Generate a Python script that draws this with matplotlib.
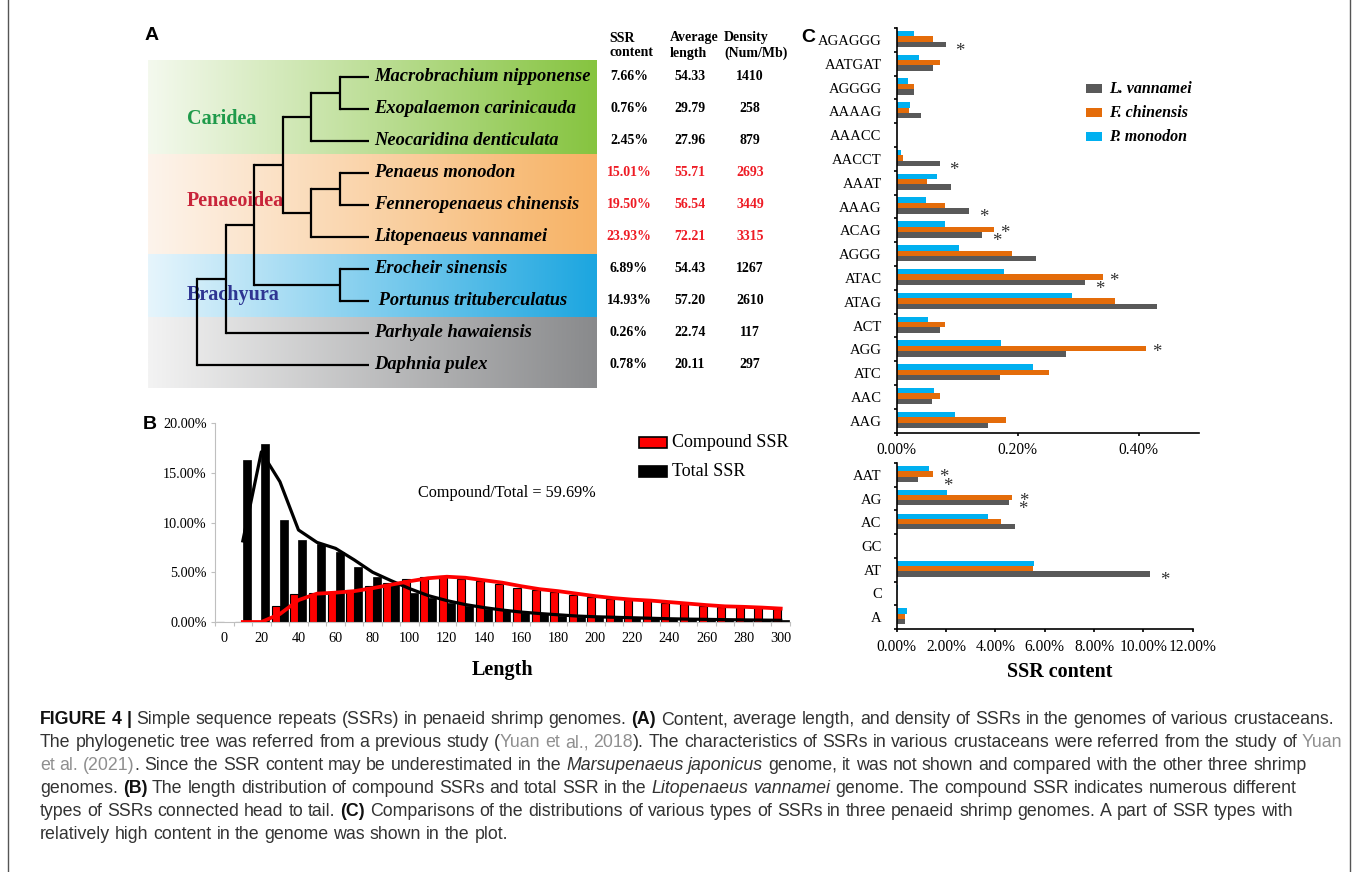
import re
import numpy as np
import matplotlib
matplotlib.use("Agg")
import matplotlib.pyplot as plt
from matplotlib.colors import to_rgb
from matplotlib.patches import Rectangle

W, H = 1358, 872
DPI = 100
SERIF = ["Liberation Serif", "DejaVu Serif"]
SANS = ["Liberation Sans", "DejaVu Sans"]

# ---------------- Panel A data ----------------
species = ["Macrobrachium nipponense", "Exopalaemon carinicauda", "Neocaridina denticulata",
           "Penaeus monodon", "Fenneropenaeus chinensis", "Litopenaeus vannamei",
           "Erocheir sinensis", " Portunus trituberculatus", "Parhyale hawaiensis", "Daphnia pulex"]
ssr_content = [7.66, 0.76, 2.45, 15.01, 19.50, 23.93, 6.89, 14.93, 0.26, 0.78]
avg_length = [54.33, 29.79, 27.96, 55.71, 56.54, 72.21, 54.43, 57.20, 22.74, 20.11]
density = [1410, 258, 879, 2693, 3449, 3315, 1267, 2610, 117, 297]
penaeid = [False, False, False, True, True, True, False, False, False, False]
tree = ((((((0, 1), 2), ((3, 4), 5)), (6, 7)), 8), 9)
clades = ["Caridea", "Penaeoidea", "Brachyura", ""]
clade_colors = ["#1f9a4a", "#c8243a", "#2e3592", None]
table_headers = ["SSR\ncontent", "Average\nlength", "Density\n(Num/Mb)"]

# ---------------- Panel B data ----------------
lengths = list(range(0, 310, 10))
compound_ssr = [0, 0, 0, 1.6, 2.8, 2.9, 3.0, 3.2, 3.6, 3.9, 4.3, 4.5, 4.6, 4.3, 4.1, 3.8,
                3.4, 3.2, 3.0, 2.7, 2.5, 2.3, 2.2, 2.1, 1.9, 1.8, 1.6, 1.55, 1.5, 1.4, 1.3]
total_ssr = [0, 16.3, 17.9, 10.3, 8.2, 7.8, 7.0, 5.5, 4.5, 3.8, 2.9, 2.4, 1.9, 1.6, 1.3, 1.1,
             0.9, 0.8, 0.65, 0.55, 0.5, 0.45, 0.4, 0.35, 0.3, 0.28, 0.25, 0.22, 0.2, 0.18, 0.16]
ratio_text = "Compound/Total = 59.69%"

# ---------------- Panel C data ----------------
types_long = ["AGAGGG", "AATGAT", "AGGGG", "AAAAG", "AAACC", "AACCT", "AAAT", "AAAG", "ACAG",
              "AGGG", "ATAC", "ATAG", "ACT", "AGG", "ATC", "AAC", "AAG"]
lv_long = [0.081, 0.060, 0.029, 0.040, 0.000, 0.071, 0.090, 0.120, 0.141,
           0.230, 0.311, 0.430, 0.071, 0.280, 0.171, 0.059, 0.151]
fc_long = [0.060, 0.071, 0.029, 0.020, 0.000, 0.011, 0.050, 0.080, 0.160,
           0.190, 0.341, 0.360, 0.080, 0.412, 0.251, 0.071, 0.181]
pm_long = [0.028, 0.037, 0.018, 0.022, 0.000, 0.007, 0.067, 0.048, 0.080,
           0.103, 0.177, 0.290, 0.051, 0.173, 0.226, 0.061, 0.096]
types_short = ["AAT", "AG", "AC", "GC", "AT", "C", "A"]
lv_short = [0.87, 4.54, 4.78, 0.01, 10.26, 0.01, 0.35]
fc_short = [1.48, 4.69, 4.21, 0.01, 5.51, 0.02, 0.35]
pm_short = [1.29, 2.02, 3.70, 0.02, 5.56, 0.07, 0.41]
# significance marks: (type, row series, anchor series)
marks_long = [("AGAGGG", "lv", "lv"), ("AACCT", "lv", "lv"), ("AAAG", "lv", "lv"),
              ("ACAG", "fc", "fc"), ("ACAG", "lv", "lv"), ("ATAC", "fc", "fc"),
              ("ATAC", "lv", "lv"), ("AGG", "fc", "fc")]
marks_short = [("AAT", "fc", "fc"), ("AAT", "lv", "fc"), ("AG", "fc", "fc"),
               ("AG", "lv", "lv"), ("AT", "lv", "lv")]
series_names = {"lv": "L. vannamei", "fc": "F. chinensis", "pm": "P. monodon"}
series_colors = {"lv": "#595959", "fc": "#E46C0A", "pm": "#00B0F0"}

# ---------------- caption ----------------
caption = [
    [("FIGURE 4 |", "b"), (" Simple sequence repeats (SSRs) in penaeid shrimp genomes. ", "n"), ("(A)", "b"),
     (" Content, average length, and density of SSRs in the genomes of various crustaceans.", "n")],
    [("The phylogenetic tree was referred from a previous study (", "n"), ("Yuan et al., 2018", "l"),
     ("). The characteristics of SSRs in various crustaceans were referred from the study of ", "n"), ("Yuan", "l")],
    [("et al. (2021)", "l"), (". Since the SSR content may be underestimated in the ", "n"),
     ("Marsupenaeus japonicus", "i"), (" genome, it was not shown and compared with the other three shrimp", "n")],
    [("genomes. ", "n"), ("(B)", "b"), (" The length distribution of compound SSRs and total SSR in the ", "n"),
     ("Litopenaeus vannamei", "i"), (" genome. The compound SSR indicates numerous different", "n")],
    [("types of SSRs connected head to tail. ", "n"), ("(C)", "b"),
     (" Comparisons of the distributions of various types of SSRs in three penaeid shrimp genomes. A part of SSR types with", "n")],
    [("relatively high content in the genome was shown in the plot.", "n")],
]

# =====================================================================
fig = plt.figure(figsize=(W / DPI, H / DPI), dpi=DPI)
fig.patch.set_facecolor("white")
ov = fig.add_axes([0, 0, 1, 1])
ov.axis("off")
R = fig.canvas.get_renderer()

# ---------- Panel A: gradient bands ----------
band_edges = [61, 155.5, 254.5, 317.5, 388]
band_left, band_right = 148, 597
band_cols = [("#f4f9ee", "#86c440"), ("#fdf4ec", "#f7b264"),
             ("#e6f5fc", "#1ca6e0"), ("#f3f3f3", "#898a8c")]
t = np.linspace(0, 1, 256)
for (c0, c1), y0, y1 in zip(band_cols, band_edges[:-1], band_edges[1:]):
    a = np.array(to_rgb(c0)); b = np.array(to_rgb(c1))
    img = (a[None, :] * (1 - t[:, None]) + b[None, :] * t[:, None])[None, :, :]
    ov.imshow(img, extent=(band_left, band_right, y1, y0), aspect="auto",
              interpolation="bilinear", zorder=1)

# clade labels
clade_pos = [119, 201, 295]
for name, col, yy in zip(clades, clade_colors, clade_pos):
    if name:
        ov.text(187, yy, name, color=col, fontsize=14.5, fontweight="bold", family=SERIF,
                ha="left", va="center", zorder=2)

# tree
leaf_x, step = 368.6, 28.6
leaf_y0, leaf_dy = 76.7, 32.03
leaf_y = [leaf_y0 + i * leaf_dy for i in range(len(species))]


def draw_node(node):
    if isinstance(node, int):
        return leaf_x, leaf_y[node], 0
    kids = [draw_node(c) for c in node]
    h = max(k[2] for k in kids) + 1
    x = leaf_x - h * step
    ys = [k[1] for k in kids]
    ov.plot([x, x], [min(ys), max(ys)], color="black", lw=1.6, zorder=3, solid_capstyle="projecting")
    for kx, ky, _ in kids:
        ov.plot([x, kx], [ky, ky], color="black", lw=1.6, zorder=3, solid_capstyle="butt")
    return x, (min(ys) + max(ys)) / 2, h


draw_node(tree)

for i, sp in enumerate(species):
    y = leaf_y[i]
    ov.text(374, y, sp, fontsize=13.3, fontweight="bold", fontstyle="italic", family=SERIF,
            ha="left", va="center", zorder=4)
    col = "#ee1c25" if penaeid[i] else "black"
    ov.text(629, y, f"{ssr_content[i]:.2f}%", fontsize=10, fontweight="bold", family=SERIF,
            color=col, ha="center", va="center")
    ov.text(690, y, f"{avg_length[i]:.2f}", fontsize=10, fontweight="bold", family=SERIF,
            color=col, ha="center", va="center")
    ov.text(750, y, f"{density[i]}", fontsize=10, fontweight="bold", family=SERIF,
            color=col, ha="center", va="center")
for hx, hd in zip([609, 670, 724], table_headers):
    ov.text(hx, 45.5, hd, fontsize=10, fontweight="bold", family=SERIF, ha="left", va="center",
            linespacing=1.2)

# panel letters
for lab, (lx, ly) in zip("ABC", [(152, 36), (150, 424), (808, 37)]):
    ov.text(lx, ly, lab, fontsize=14, fontweight="bold", family=SANS, ha="center", va="center")

# ---------- Panel B ----------
axB = fig.add_axes([215 / W, 1 - 622 / H, 575 / W, 199 / H])
axB.set_facecolor("none")
x = np.array(lengths, dtype=float)
bw = 4.3
axB.bar(x - bw / 2, compound_ssr, width=bw, color="#ff0000", edgecolor="black", linewidth=0.8, zorder=2)
axB.bar(x + bw / 2, total_ssr, width=bw, color="black", edgecolor="black", linewidth=0.5, zorder=2)
tot = np.array(total_ssr); com = np.array(compound_ssr)
ma_tot = (tot[1:] + tot[:-1]) / 2   # 2-period moving average trendline
ma_com = (com[1:] + com[:-1]) / 2
axB.plot(x[1:], ma_tot, color="black", lw=2.3, zorder=3, solid_joinstyle="round")
axB.plot(x[1:], ma_com, color="#ff0000", lw=2.7, zorder=4, solid_joinstyle="round")
axB.set_xlim(-5, 305)
axB.set_ylim(0, 20)
for s in ["top", "right"]:
    axB.spines[s].set_visible(False)
for s in ["left", "bottom"]:
    axB.spines[s].set_color("#bfbfbf")
    axB.spines[s].set_linewidth(0.8)
axB.set_xticks(range(0, 301, 20))
axB.set_xticklabels([str(v) for v in range(0, 301, 20)])
axB.set_xticks(np.arange(-5, 306, 10), minor=True)
axB.tick_params(axis="x", which="major", length=0, pad=7)
axB.tick_params(axis="x", which="minor", length=3, color="#bfbfbf", width=0.8)
axB.set_yticks([0, 5, 10, 15, 20])
axB.set_yticklabels([f"{v:.2f}%" for v in [0, 5, 10, 15, 20]])
axB.tick_params(axis="y", length=3, color="#bfbfbf", width=0.8, pad=3)
for lab in axB.get_xticklabels() + axB.get_yticklabels():
    lab.set_fontfamily(SERIF)
    lab.set_fontsize(10.3)
# legend B
ov.add_patch(Rectangle((639, 437), 28, 11, facecolor="#ff0000", edgecolor="black", lw=1.2, zorder=5))
ov.add_patch(Rectangle((639, 466), 28, 11, facecolor="black", edgecolor="black", lw=1.2, zorder=5))
ov.text(672, 442, "Compound SSR", fontsize=13, family=SERIF, ha="left", va="center")
ov.text(672, 471.5, "Total SSR", fontsize=13, family=SERIF, ha="left", va="center")
ov.text(418, 493, ratio_text, fontsize=11.7, family=SERIF, ha="left", va="center")
ov.text(502.5, 670, "Length", fontsize=14.5, fontweight="bold", family=SERIF, ha="center", va="center")


# ---------- Panel C ----------
def panel_c(rect, cats, vals, h, xmax, xticks, fmt, marks):
    ax = fig.add_axes(rect)
    ax.set_facecolor("none")
    n = len(cats)
    y = np.arange(n)
    d = -0.04
    offs = {"pm": -h, "fc": 0.0, "lv": h}
    star_dx = {"pm": 10.5, "fc": 11.0, "lv": 14.5}
    star_dy = {"pm": -9, "fc": -8.5, "lv": -11.5}
    for key in ["pm", "fc", "lv"]:
        ax.barh(y + offs[key] + d, vals[key], height=h, color=series_colors[key], zorder=2)
    ax.set_ylim(n - 0.5, -0.5)
    ax.set_xlim(0, xmax)
    ax.set_yticks(y)
    ax.set_yticklabels(cats)
    ax.set_yticks(np.arange(n + 1) - 0.5, minor=True)
    ax.tick_params(axis="y", which="major", length=0, pad=10.8)
    ax.tick_params(axis="y", which="minor", length=2.5, width=1.2)
    ax.set_xticks(xticks)
    ax.set_xticklabels([fmt(v) for v in xticks])
    ax.tick_params(axis="x", which="major", length=2.5, width=1.2, pad=4.5)
    for s in ["top", "right"]:
        ax.spines[s].set_visible(False)
    for s in ["left", "bottom"]:
        ax.spines[s].set_linewidth(1.2)
    for lab in ax.get_xticklabels():
        lab.set_fontfamily(SERIF)
        lab.set_fontsize(11.2)
    for lab in ax.get_yticklabels():
        lab.set_fontfamily(SERIF)
        lab.set_fontsize(10.5)
    for cat, row, anchor in marks:
        i = cats.index(cat)
        ax.annotate("*", xy=(vals[anchor][i], i + offs[row] + d), xytext=(star_dx[row], star_dy[row]),
                    textcoords="offset pixels", ha="center", va="baseline", fontsize=13.5,
                    family=SERIF, color="#333333", annotation_clip=False)
    return ax


axC1 = panel_c([896.7 / W, 1 - 432.7 / H, 302.6 / W, 404.7 / H], types_long,
               {"lv": lv_long, "fc": fc_long, "pm": pm_long}, 0.227, 0.5,
               [0, 0.2, 0.4], lambda v: f"{v:.2f}%", marks_long)
axC2 = panel_c([896.7 / W, 1 - 629 / H, 296 / W, 166 / H], types_short,
               {"lv": lv_short, "fc": fc_short, "pm": pm_short}, 0.22, 12,
               [0, 2, 4, 6, 8, 10, 12], lambda v: f"{v:.2f}%", marks_short)
ov.text(1060, 671.5, "SSR content", fontsize=14.5, fontweight="bold", family=SERIF,
        ha="center", va="center")
# legend C
for key, ly in zip(["lv", "fc", "pm"], [89, 113, 137]):
    ov.add_patch(Rectangle((1086, ly - 4.5), 16, 9, facecolor=series_colors[key], edgecolor="none", zorder=5))
    ov.text(1109, ly, series_names[key], fontsize=11.5, fontweight="bold", fontstyle="italic",
            family=SERIF, ha="left", va="center")

# ---------- caption ----------
STYLE = {"n": dict(color="#333333"), "b": dict(color="#111111", fontweight="bold"),
         "i": dict(color="#333333", fontstyle="italic"), "l": dict(color="#8f8f8f")}
_space = {}


def space_w(st, size):
    k = (st, size)
    if k not in _space:
        t1 = ov.text(0, 0, "x x", fontsize=size, family=SANS, **STYLE[st])
        t2 = ov.text(0, 0, "xx", fontsize=size, family=SANS, **STYLE[st])
        _space[k] = t1.get_window_extent(R).width - t2.get_window_extent(R).width
        t1.remove(); t2.remove()
    return _space[k]


def rich_line(x0, y, segs, size, draw=True):
    xx = x0
    for text, st in segs:
        for tok in re.split(r"( )", text):
            if tok == "":
                continue
            if tok == " ":
                xx += space_w(st, size)
                continue
            tt = ov.text(xx, y, tok, fontsize=size, family=SANS, ha="left", va="baseline",
                         **STYLE[st])
            w = tt.get_window_extent(R).width
            if not draw:
                tt.remove()
            xx += w
    return xx - x0


ov.set_xlim(0, W)
ov.set_ylim(H, 0)
w0 = rich_line(40, 724, caption[0], 10, draw=False)
cap_size = 10 * 1295 / w0
for k, segs in enumerate(caption):
    rich_line(40, 724 + 23 * k, segs, cap_size)

# frame lines
ov.plot([8, 8], [0, H], color="#555555", lw=1)
ov.plot([1350, 1350], [0, H], color="#555555", lw=1)

ov.set_xlim(0, W)
ov.set_ylim(H, 0)
fig.savefig("out.png", dpi=DPI)
